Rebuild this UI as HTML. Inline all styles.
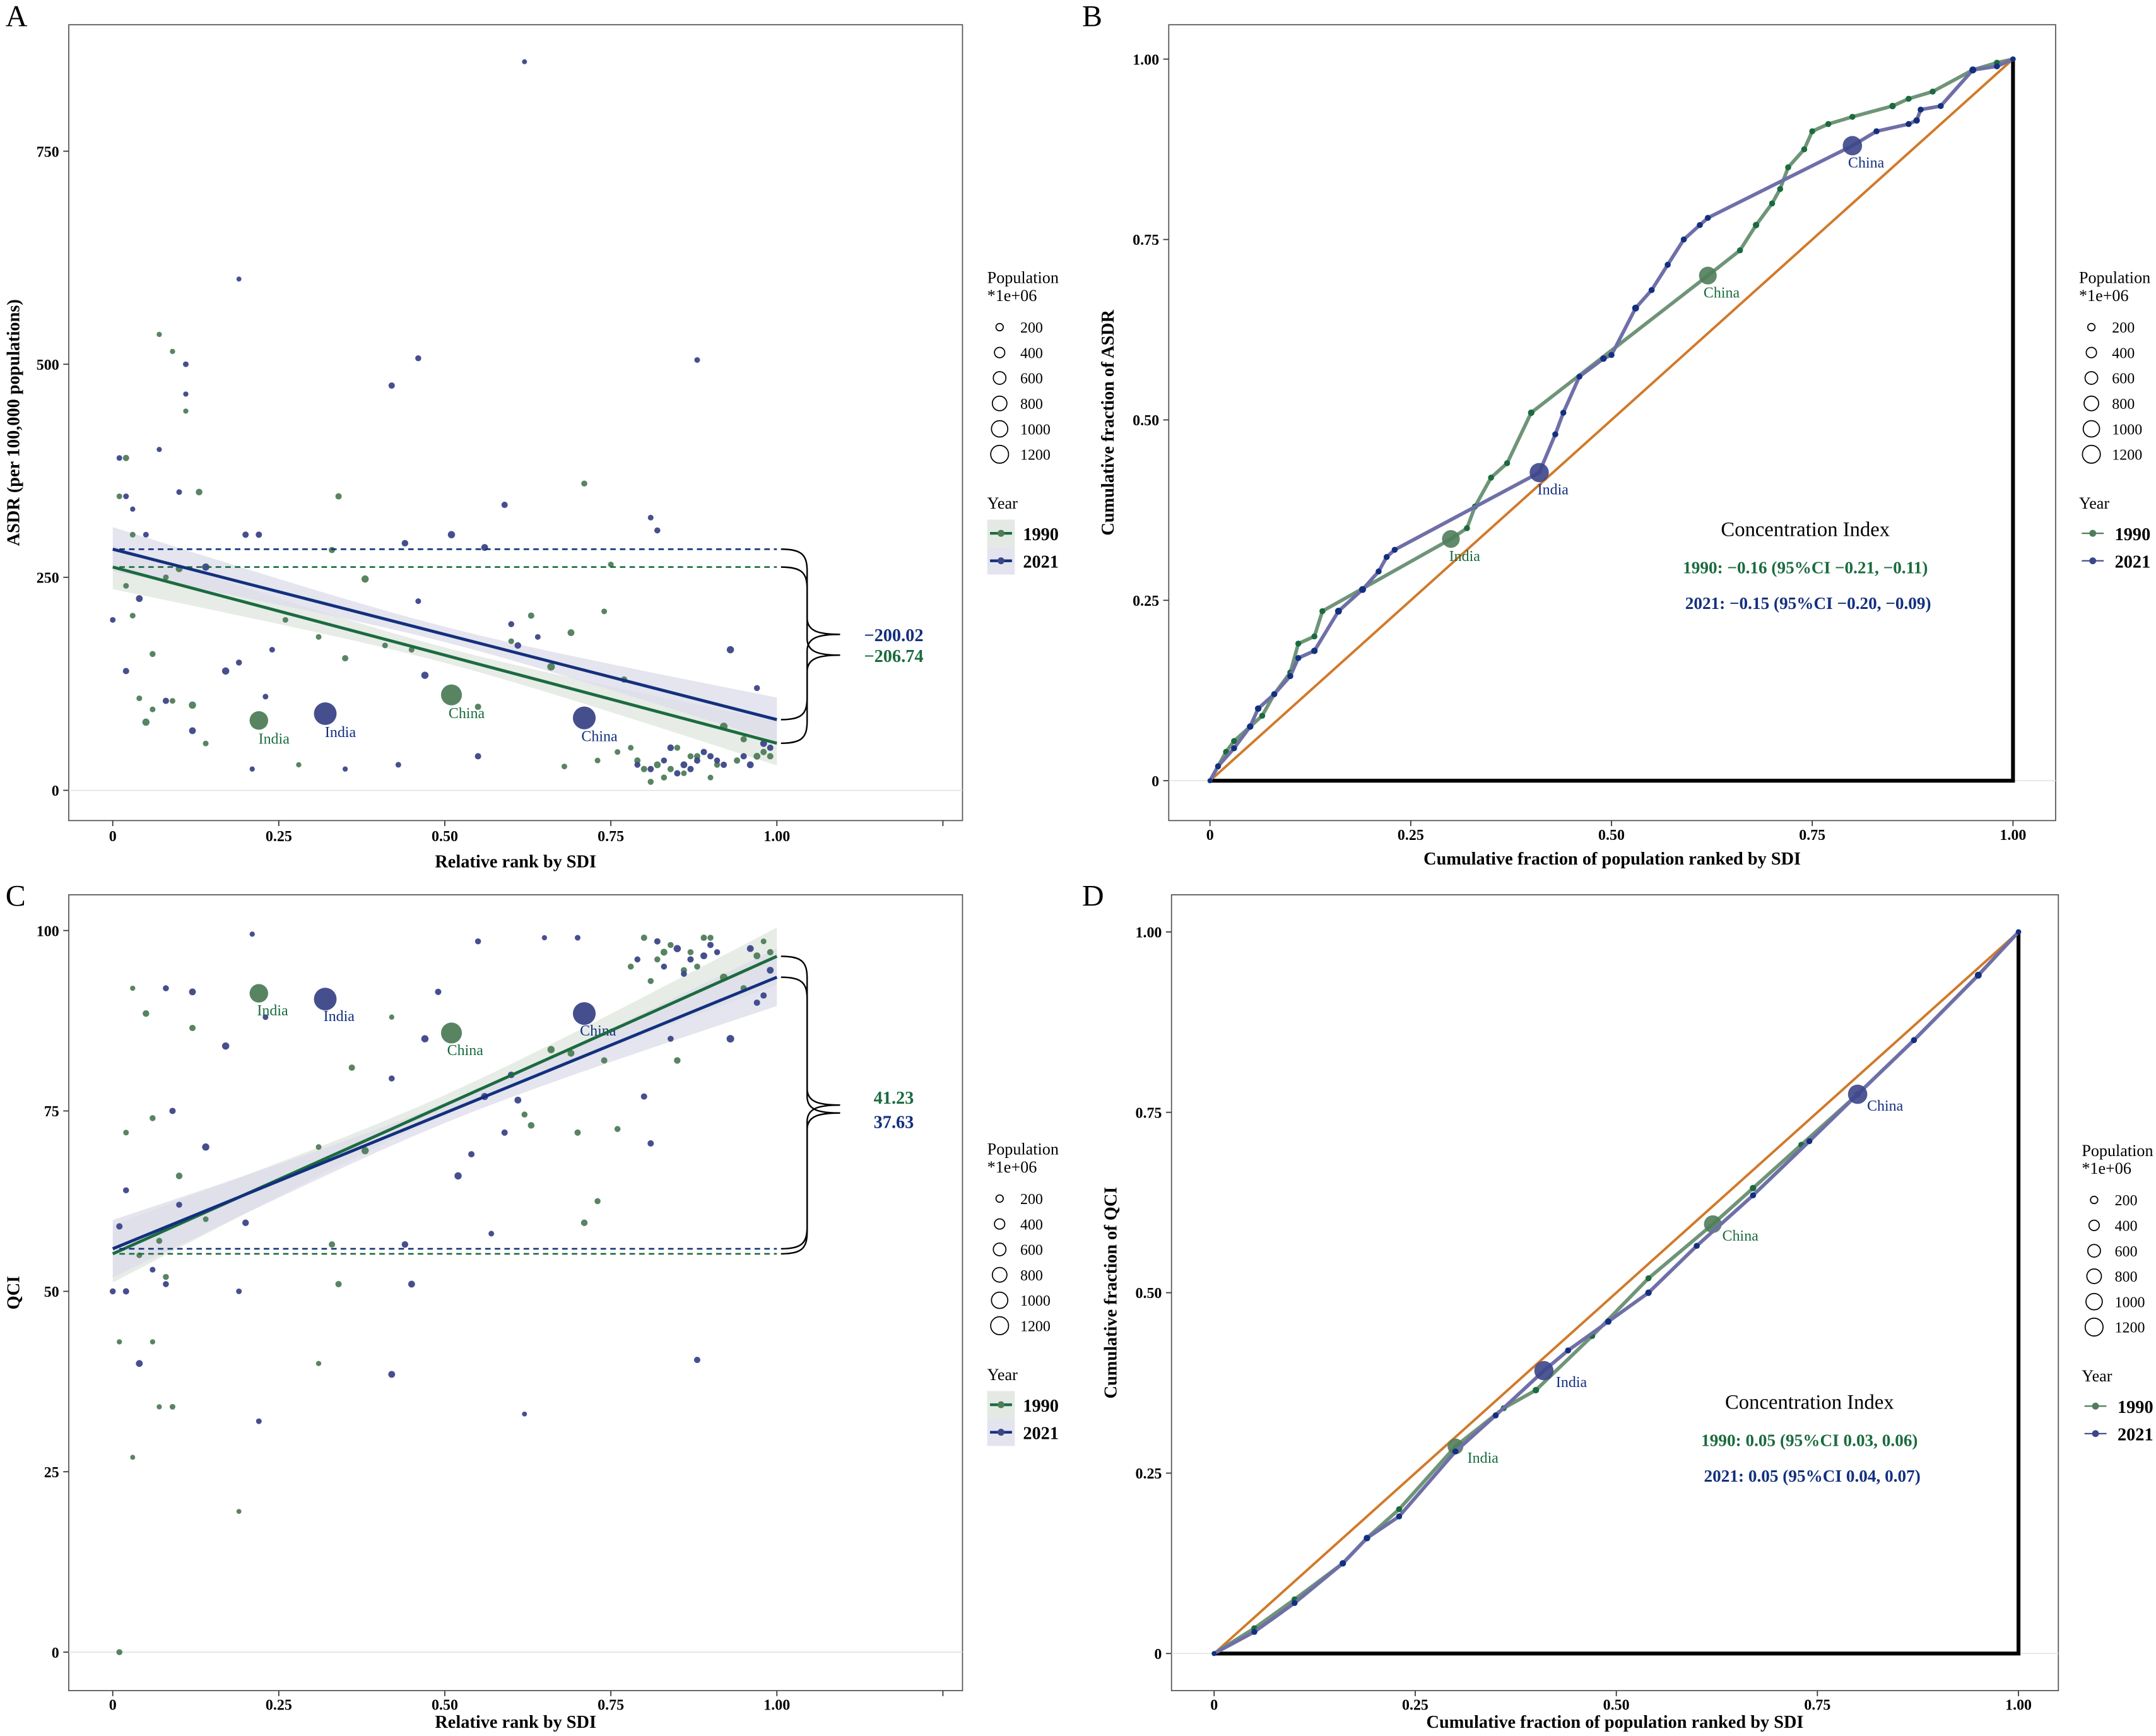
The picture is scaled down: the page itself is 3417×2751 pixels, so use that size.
<!DOCTYPE html>
<html><head><meta charset="utf-8">
<style>
html,body{margin:0;padding:0;background:#fff;}
svg{display:block;font-family:"Liberation Serif",serif;}
</style></head>
<body>
<svg id="fig" xmlns="http://www.w3.org/2000/svg" width="3417" height="2751" viewBox="0 0 1568 1263" preserveAspectRatio="none">
<rect x="0" y="0" width="1568" height="1263" fill="#fff"/>
</svg>
<script>
// ---------- DATA ----------
const aRank1990 = [0.22,0.51,0.01,0.02,0.03,0.05,0.06,0.07,0.08,0.09,0.10,0.12,0.13,0.14,0.38,0.34,0.35,0.31,0.63,0.66,0.69,0.71,0.74,0.75,0.77,0.80,0.82,0.85,0.88,0.92,0.95,0.97,0.99,0.81,0.83,0.86,0.90,0.78,0.73,0.68,0.41,0.26,0.28,0.55,0.60,0.45,0.03,0.04,0.11,0.33,0.79,0.84,0.87,0.91,0.94,0.98,0.76,0.02,0.06,0.09];
const aVal1990  = [82,112,345,390,300,80,160,535,250,515,260,100,350,55,248,345,155,180,205,145,185,360,210,265,130,25,30,50,40,75,60,40,40,10,15,20,15,50,35,28,170,200,30,98,175,165,205,108,445,282,35,25,40,30,35,45,45,240,95,105];
const aPop1990  = [850,1150,10,20,10,40,15,5,10,5,30,40,25,10,40,20,20,10,20,50,30,15,10,10,20,20,30,15,20,50,20,30,20,15,15,10,10,10,10,10,10,10,5,20,10,10,10,10,5,20,20,20,15,15,20,20,10,10,10,10];
const aRank2021 = [0.32,0.71,0.62,0.19,0.46,0.88,0.42,0.11,0.11,0.01,0.02,0.03,0.04,0.02,0.05,0.07,0.10,0.12,0.14,0.17,0.19,0.20,0.23,0.22,0.47,0.51,0.56,0.59,0.60,0.61,0.64,0.93,0.97,0.81,0.82,0.84,0.86,0.88,0.90,0.92,0.96,0.98,0.99,0.81,0.83,0.55,0.43,0.35,0.21,0.24,0.46,0.00,0.08,0.44,0.85,0.87,0.89,0.91,0.95,0.79];
const aVal2021  = [90,85,855,600,507,505,475,500,465,390,345,330,225,140,300,400,350,70,262,140,150,300,110,300,135,300,285,335,195,170,180,165,120,320,305,50,30,35,40,30,30,55,50,25,35,40,30,25,25,165,222,200,105,290,20,25,45,35,40,30];
const aPop2021  = [1400,1420,3,3,15,10,20,10,5,10,10,5,30,20,10,5,10,30,40,40,15,20,10,20,40,40,30,20,15,25,10,40,15,10,15,25,30,20,20,20,30,30,20,20,15,20,10,5,5,10,10,10,20,25,20,20,20,15,20,15];
const aIntercept = [262,283];
const aSlope = [-206.74,-200.02];
const aSlopeLabels = ["\u2212206.74","\u2212200.02"];

const cRank1990 = [0.22,0.51,0.01,0.05,0.12,0.03,0.02,0.06,0.10,0.07,0.08,0.06,0.07,0.09,0.03,0.19,0.33,0.34,0.36,0.38,0.31,0.66,0.69,0.63,0.70,0.71,0.73,0.74,0.76,0.78,0.80,0.83,0.86,0.89,0.92,0.95,0.97,0.99,0.98,0.81,0.88,0.85,0.62,0.14,0.04,0.01,0.31,0.42,0.84,0.87,0.90,0.82];
const cVal1990  = [91.3,85.8,0,88.5,86.5,92,72,74,66,57,52,43,34,34,27,19.5,56.5,51,81,69.5,70,83.5,83,73,72,59.5,62.5,82,72.5,95,99,97,94.5,99,93.5,92,96.5,97,98.5,93,95,82,74.5,60,55,43,40,88,98,97,99,96];
const cPop1990  = [850,1150,15,25,20,5,10,15,25,15,15,5,5,10,3,3,20,20,20,40,10,40,30,25,20,25,15,20,15,15,20,30,20,20,50,20,30,20,10,15,15,25,15,10,10,5,5,5,15,15,15,15];
const cRank2021 = [0.32,0.71,0.12,0.08,0.17,0.14,0.09,0.10,0.02,0.01,0.00,0.02,0.04,0.08,0.06,0.20,0.22,0.21,0.23,0.19,0.44,0.45,0.42,0.47,0.49,0.52,0.54,0.56,0.60,0.61,0.59,0.55,0.57,0.88,0.93,0.97,0.98,0.99,0.96,0.85,0.82,0.87,0.89,0.90,0.80,0.81,0.84,0.79,0.70,0.65,0.42,0.62,0.83,0.86,0.91];
const cVal2021  = [90.5,88.5,91.5,92,84,70,75,62,64,59,50,50,40,51,53,59.5,32,99.5,88,50,56.5,51,38.5,85,91.5,66,69,77,80,76.5,72,98.5,58,40.5,85,90,91,94.5,97.5,97.5,98.5,96,96.5,98,77,70.5,85,96,99,99,79.5,33,95,94,97];
const cPop2021  = [1400,1420,30,15,40,40,20,15,15,20,15,20,30,15,10,25,10,5,10,10,25,30,30,40,20,40,20,35,25,30,20,15,10,20,50,20,20,30,30,40,20,20,30,20,20,20,15,15,10,5,15,3,15,15,15];
const cIntercept = [55.2,55.9];
const cSlope = [41.23,37.63];
const cSlopeLabels = ["41.23","37.63"];

const bX1990 = [0,0.02,0.03,0.05,0.065,0.08,0.10,0.11,0.13,0.14,0.30,0.32,0.33,0.35,0.37,0.40,0.62,0.66,0.68,0.70,0.71,0.72,0.74,0.75,0.77,0.80,0.85,0.87,0.90,0.95,0.98,1];
const bY1990 = [0,0.04,0.055,0.075,0.09,0.12,0.15,0.19,0.20,0.235,0.335,0.35,0.38,0.42,0.44,0.51,0.70,0.735,0.77,0.80,0.82,0.85,0.875,0.90,0.91,0.92,0.935,0.945,0.955,0.985,0.995,1];
const bP1990 = [5,20,20,20,20,20,20,20,20,20,1150,20,20,20,20,30,1150,20,30,20,20,20,20,20,20,20,30,20,20,40,20,10];
const bX2021 = [0,0.01,0.03,0.05,0.06,0.08,0.10,0.11,0.13,0.16,0.19,0.21,0.22,0.23,0.41,0.43,0.44,0.46,0.49,0.50,0.53,0.55,0.57,0.59,0.61,0.62,0.80,0.83,0.87,0.88,0.885,0.91,0.95,0.98,1];
const bY2021 = [0,0.02,0.045,0.075,0.10,0.12,0.145,0.17,0.18,0.235,0.265,0.29,0.31,0.32,0.427,0.48,0.51,0.56,0.585,0.59,0.655,0.68,0.715,0.75,0.77,0.78,0.88,0.90,0.91,0.915,0.93,0.935,0.985,0.99,1];
const bP2021 = [5,20,20,30,30,20,20,20,30,40,40,20,20,20,1400,20,20,20,30,20,40,20,20,20,20,20,1420,20,20,30,20,20,40,20,10];
const bCI = ["1990: \u22120.16 (95%CI \u22120.21, \u22120.11)","2021: \u22120.15 (95%CI \u22120.20, \u22120.09)"];

const dX1990 = [0,0.05,0.1,0.16,0.19,0.23,0.30,0.36,0.40,0.47,0.54,0.62,0.67,0.73,0.80,0.87,0.95,1];
const dY1990 = [0,0.035,0.075,0.125,0.16,0.20,0.287,0.34,0.365,0.44,0.52,0.595,0.645,0.705,0.775,0.85,0.94,1];
const dP1990 = [5,20,20,20,30,20,850,20,30,20,20,1150,30,20,20,20,30,10];
const dX2021 = [0,0.05,0.1,0.16,0.19,0.23,0.30,0.35,0.41,0.44,0.49,0.54,0.60,0.67,0.74,0.80,0.87,0.95,1];
const dY2021 = [0,0.03,0.07,0.125,0.16,0.19,0.28,0.33,0.392,0.42,0.46,0.50,0.565,0.635,0.71,0.775,0.85,0.94,1];
const dP2021 = [5,20,20,30,30,20,20,20,1400,20,30,30,20,20,20,1420,20,40,10];
const dCI = ["1990: 0.05 (95%CI 0.03, 0.06)","2021: 0.05 (95%CI 0.04, 0.07)"];

const rankTicks = [0,0.25,0.5,0.75,1.0];
const rankTickLabels = ["0","0.25","0.50","0.75","1.00"];
const asdrTicks = [0,250,500,750];
const qciTicks = [0,25,50,75,100];
const fracTicks = [0,0.25,0.5,0.75,1];
const fracTickLabels = ["0","0.25","0.50","0.75","1.00"];
const popLegend = [200,400,600,800,1000,1200];

// ---------- DRAWING ----------
const NS="http://www.w3.org/2000/svg";
const svg=document.getElementById('fig');
function mk(tag,attrs,parent,text){const e=document.createElementNS(NS,tag);for(const k in attrs)e.setAttribute(k,attrs[k]);if(text!==undefined)e.textContent=text;(parent||svg).appendChild(e);return e;}
const GL="#1b6b3f", BL="#13307e", GP="#4f7d5a", BP="#3c4688", GC="#6f9478", BC="#6f6fa8";
function rad(p){return 1.5+Math.sqrt(p)*0.18;}

function frame(g,x0,y0,x1,y1){const r=mk('rect',{x:x0,y:y0,width:x1-x0,height:y1-y0,fill:'none',stroke:'#555','stroke-width':0.8},g);}

function popLegendDraw(g,x,y){
  const t=mk('text',{x:x,y:y,'font-size':12},g,'Population');
  mk('text',{x:x,y:y+13,'font-size':12},g,'*1e+06');
  popLegend.forEach((p,i)=>{const cy=y+32+i*18.5;
    const c=mk('circle',{cx:x+9,cy:cy,r:Math.sqrt(p/1200)*6.5,fill:'none',stroke:'#000','stroke-width':0.8},g);
    mk('text',{x:x+24,y:cy+4,'font-size':11},g,String(p));});
}
function yearLegendDraw(g,x,y,box,lineCol){
  const t=mk('text',{x:x,y:y,'font-size':12},g,'Year');
  [['1990',GP,GL],['2021',BP,BL]].forEach((d,i)=>{const cy=y+18+i*20;
    if(box) mk('rect',{x:x,y:cy-10,width:20,height:20,fill:i?'#e4e4ee':'#e4e9e4'},g);
    mk('line',{x1:x+2,x2:x+18,y1:cy,y2:cy,stroke:lineCol?d[2]:d[1],'stroke-width':lineCol?2:1},g);
    const c=mk('circle',{cx:x+10,cy:cy,r:2.5,fill:d[1]},g);
    mk('text',{x:x+26,y:cy+5,'font-size':13,'font-weight':'bold'},g,d[0]);});
}

function scatterPanel(cfg){
  const g=mk('g',{});
  const X=v=>cfg.x0+v*(cfg.x1-cfg.x0), Y=v=>cfg.yz-v*cfg.ys;
  frame(g,cfg.bx0,cfg.by0,cfg.bx1,cfg.by1);
  mk('line',{x1:cfg.bx0,x2:cfg.bx1,y1:Y(0),y2:Y(0),stroke:'#e3e3e3','stroke-width':0.8},g);
  mk('text',{x:cfg.lx,y:cfg.ly,'font-size':22},g,cfg.letter);
  rankTicks.concat([1.25]).forEach((t,i)=>{mk('line',{x1:X(t),x2:X(t),y1:cfg.by1,y2:cfg.by1+4,stroke:'#333','stroke-width':0.8},g);
    if(i<rankTickLabels.length){const tl=mk('text',{x:X(t),y:cfg.by1+cfg.tkOff,'font-size':11,'font-weight':'bold','text-anchor':'middle'},g,rankTickLabels[i]);}});
  cfg.yt.forEach(t=>{mk('line',{x1:cfg.bx0-4,x2:cfg.bx0,y1:Y(t),y2:Y(t),stroke:'#333','stroke-width':0.8},g);
    const tl=mk('text',{x:cfg.bx0-7,y:Y(t)+4,'font-size':11,'font-weight':'bold','text-anchor':'end'},g,String(t));});
  const xt=mk('text',{x:(cfg.bx0+cfg.bx1)/2,y:cfg.by1+cfg.ttOff,'font-size':13,'font-weight':'bold','text-anchor':'middle'},g,'Relative rank by SDI');
  const yc=(cfg.by0+cfg.by1)/2;
  const yt=mk('text',{x:0,y:0,transform:`translate(${cfg.ytx},${yc}) rotate(-90)`,'font-size':13,'font-weight':'bold','text-anchor':'middle'},g,cfg.ytitle);
  const cols=[[GL,'#dfe6df',GP],[BL,'#dcdcea',BP]];
  [0,1].forEach(k=>{const pts=[],pts2=[];for(let i=0;i<=20;i++){const u=i/20;const yv=cfg.ic[k]+cfg.sl[k]*u;const hw=Math.sqrt(cfg.hw0*cfg.hw0*0.12+cfg.hw0*cfg.hw0*3.5*(u-0.5)*(u-0.5));pts.push(X(u)+','+Y(yv+hw));pts2.unshift(X(u)+','+Y(yv-hw));}
    const b=mk('polygon',{points:pts.concat(pts2).join(' '),fill:cols[k][1],opacity:0.75},g);});
  [[cfg.r90,cfg.v90,cfg.p90,GP,'1990'],[cfg.r21,cfg.v21,cfg.p21,BP,'2021']].forEach(s=>{
    s[0].forEach((r,i)=>{const c=mk('circle',{cx:X(r),cy:Y(s[1][i]),r:rad(s[2][i]),fill:s[3],opacity:0.95},g);});});
  [[cfg.r90,cfg.v90,cfg.p90,GL],[cfg.r21,cfg.v21,cfg.p21,BL]].forEach(s=>{
    ['India','China'].forEach((nm,j)=>{const cx=X(s[0][j]),cy=Y(s[1][j]);mk('text',{x:cx+(cfg.lblDx||10),y:cy+(cfg.lblDy||18),'font-size':11,fill:s[3],'text-anchor':'middle'},g,nm);});});
  [0,1].forEach(k=>{const c=k?BL:GL;
    const l=mk('line',{x1:X(0),y1:Y(cfg.ic[k]),x2:X(1),y2:Y(cfg.ic[k]+cfg.sl[k]),stroke:c,'stroke-width':2.2},g);
    mk('line',{x1:X(0.01),y1:Y(cfg.ic[k]),x2:X(1),y2:Y(cfg.ic[k]),stroke:c,'stroke-width':1.2,'stroke-dasharray':'4,3'},g);
    const ya=Y(cfg.ic[k]),yb=Y(cfg.ic[k]+cfg.sl[k]);const y1=Math.min(ya,yb),y2=Math.max(ya,yb),ym=(y1+y2)/2,x0=X(1)+3;
    const d=`M${x0},${y1} C${x0+15},${y1} ${x0+19},${y1+4} ${x0+19},${y1+16} L${x0+19},${ym-12} C${x0+19},${ym-2} ${x0+28},${ym} ${x0+43},${ym} C${x0+28},${ym} ${x0+19},${ym+2} ${x0+19},${ym+12} L${x0+19},${y2-16} C${x0+19},${y2-4} ${x0+15},${y2} ${x0},${y2}`;
    const br=mk('path',{d:d,fill:'none',stroke:'#000','stroke-width':1.1},g);
    const lt=mk('text',{x:x0+82,y:ym+5+cfg.lblOff[k],'font-size':13,'font-weight':'bold',fill:k?BL:GL,'text-anchor':'middle'},g,cfg.slLbl[k]);});
  popLegendDraw(g,718,cfg.legY);
  yearLegendDraw(g,718,cfg.legY+164,true,true);
}

function curvePanel(cfg){
  const g=mk('g',{});
  const X=v=>cfg.x0+v*(cfg.x1-cfg.x0), Y=v=>cfg.y0-v*(cfg.y0-cfg.y1);
  frame(g,cfg.bx0,cfg.by0,cfg.bx1,cfg.by1);
  mk('line',{x1:cfg.bx0,x2:cfg.bx1,y1:Y(0),y2:Y(0),stroke:'#e3e3e3','stroke-width':0.8},g);
  mk('text',{x:cfg.lx,y:cfg.ly,'font-size':22},g,cfg.letter);
  fracTicks.forEach((t,i)=>{mk('line',{x1:X(t),x2:X(t),y1:cfg.by1,y2:cfg.by1+4,stroke:'#333','stroke-width':0.8},g);
    const a=mk('text',{x:X(t),y:cfg.by1+cfg.tkOff,'font-size':11,'font-weight':'bold','text-anchor':'middle'},g,fracTickLabels[i]);
    mk('line',{x1:cfg.bx0-4,x2:cfg.bx0,y1:Y(t),y2:Y(t),stroke:'#333','stroke-width':0.8},g);
    const b=mk('text',{x:cfg.bx0-7,y:Y(t)+4,'font-size':11,'font-weight':'bold','text-anchor':'end'},g,fracTickLabels[i]);});
  const xt=mk('text',{x:(cfg.bx0+cfg.bx1)/2,y:cfg.by1+cfg.ttOff,'font-size':13,'font-weight':'bold','text-anchor':'middle'},g,'Cumulative fraction of population ranked by SDI');
  const yc=(cfg.by0+cfg.by1)/2;
  const yt=mk('text',{x:0,y:0,transform:`translate(${cfg.ytx},${yc}) rotate(-90)`,'font-size':13,'font-weight':'bold','text-anchor':'middle'},g,cfg.ytitle);
  const eq=mk('line',{x1:X(0),y1:Y(0),x2:X(1),y2:Y(1),stroke:'#d07a2a','stroke-width':1.8},g);
  mk('polyline',{points:`${X(0)},${Y(0)} ${X(1)},${Y(0)} ${X(1)},${Y(1)}`,fill:'none',stroke:'#000','stroke-width':2.8},g);
  [[cfg.gx,cfg.gy,cfg.gp,GC,GP,GL,'1990'],[cfg.bx,cfg.by,cfg.bp,BC,BP,BL,'2021']].forEach(s=>{
    const pl=mk('polyline',{points:s[0].map((v,i)=>X(v)+','+Y(s[1][i])).join(' '),fill:'none',stroke:s[3],'stroke-width':2.6},g);
    s[0].forEach((v,i)=>{const big=s[2][i]>500;const c=mk('circle',{cx:X(v),cy:Y(s[1][i]),r:big?rad(s[2][i])*0.85:rad(s[2][i])*0.95,fill:big?s[4]:s[5],opacity:big?0.9:1},g);});
    let n=0;s[0].forEach((v,i)=>{if(s[2][i]>500){mk('text',{x:X(v)+cfg.ldx,y:Y(s[1][i])+cfg.ldy,'font-size':11,fill:s[5],'text-anchor':'middle'},g,n?'China':'India');n++;}});
  });
  const cx=cfg.ciX;
  const t=mk('text',{x:cx,y:cfg.ciY,'font-size':15,'text-anchor':'middle'},g,'Concentration Index');
  const a=mk('text',{x:cx,y:cfg.ciY+27,'font-size':12.5,'font-weight':'bold',fill:GL,'text-anchor':'middle'},g,cfg.ci[0]);
  const b=mk('text',{x:cx+2,y:cfg.ciY+53,'font-size':12.5,'font-weight':'bold',fill:BL,'text-anchor':'middle'},g,cfg.ci[1]);
  popLegendDraw(g,cfg.legX,cfg.legY);
  yearLegendDraw(g,cfg.legX,cfg.legY+164,false,false);
}

scatterPanel({name:'panel-a',letter:'A',lx:4,ly:19,bx0:50,by0:18,bx1:700,by1:597,x0:82,x1:565,yz:575,ys:0.62,yt:asdrTicks,ytitle:'ASDR (per 100,000 populations)',ytx:14,tkOff:15,ttOff:34,
  r90:aRank1990,v90:aVal1990,p90:aPop1990,r21:aRank2021,v21:aVal2021,p21:aPop2021,ic:aIntercept,sl:aSlope,slLbl:aSlopeLabels,lblOff:[0,0],hw0:26,legY:206,lblDx:11,lblDy:17});
scatterPanel({name:'panel-c',letter:'C',lx:4,ly:659,bx0:50,by0:651,bx1:700,by1:1230,x0:82,x1:565,yz:1202,ys:5.25,yt:qciTicks,ytitle:'QCI',ytx:14,tkOff:14,ttOff:27,
  r90:cRank1990,v90:cVal1990,p90:cPop1990,r21:cRank2021,v21:cVal2021,p21:cPop2021,ic:cIntercept,sl:cSlope,slLbl:cSlopeLabels,lblOff:[-6,6],hw0:4,legY:840,lblDx:0,lblDy:16});
curvePanel({name:'panel-b',letter:'B',lx:787,ly:19,bx0:850,by0:18,bx1:1495,by1:597,x0:880,x1:1464,y0:568,y1:43,ytitle:'Cumulative fraction of ASDR',ytx:810,tkOff:14,ttOff:32,
  gx:bX1990,gy:bY1990,gp:bP1990,bx:bX2021,by:bY2021,bp:bP2021,ldx:10,ldy:16,ci:bCI,ciX:1313,ciY:390,legX:1512,legY:206});
curvePanel({name:'panel-d',letter:'D',lx:787,ly:659,bx0:852,by0:651,bx1:1497,by1:1230,x0:883,x1:1468,y0:1203,y1:678,ytitle:'Cumulative fraction of QCI',ytx:812,tkOff:14,ttOff:27,
  gx:dX1990,gy:dY1990,gp:dP1990,bx:dX2021,by:dY2021,bp:dP2021,ldx:20,ldy:12,ci:dCI,ciX:1316,ciY:1025,legX:1514,legY:841});
</script>
</body></html>
